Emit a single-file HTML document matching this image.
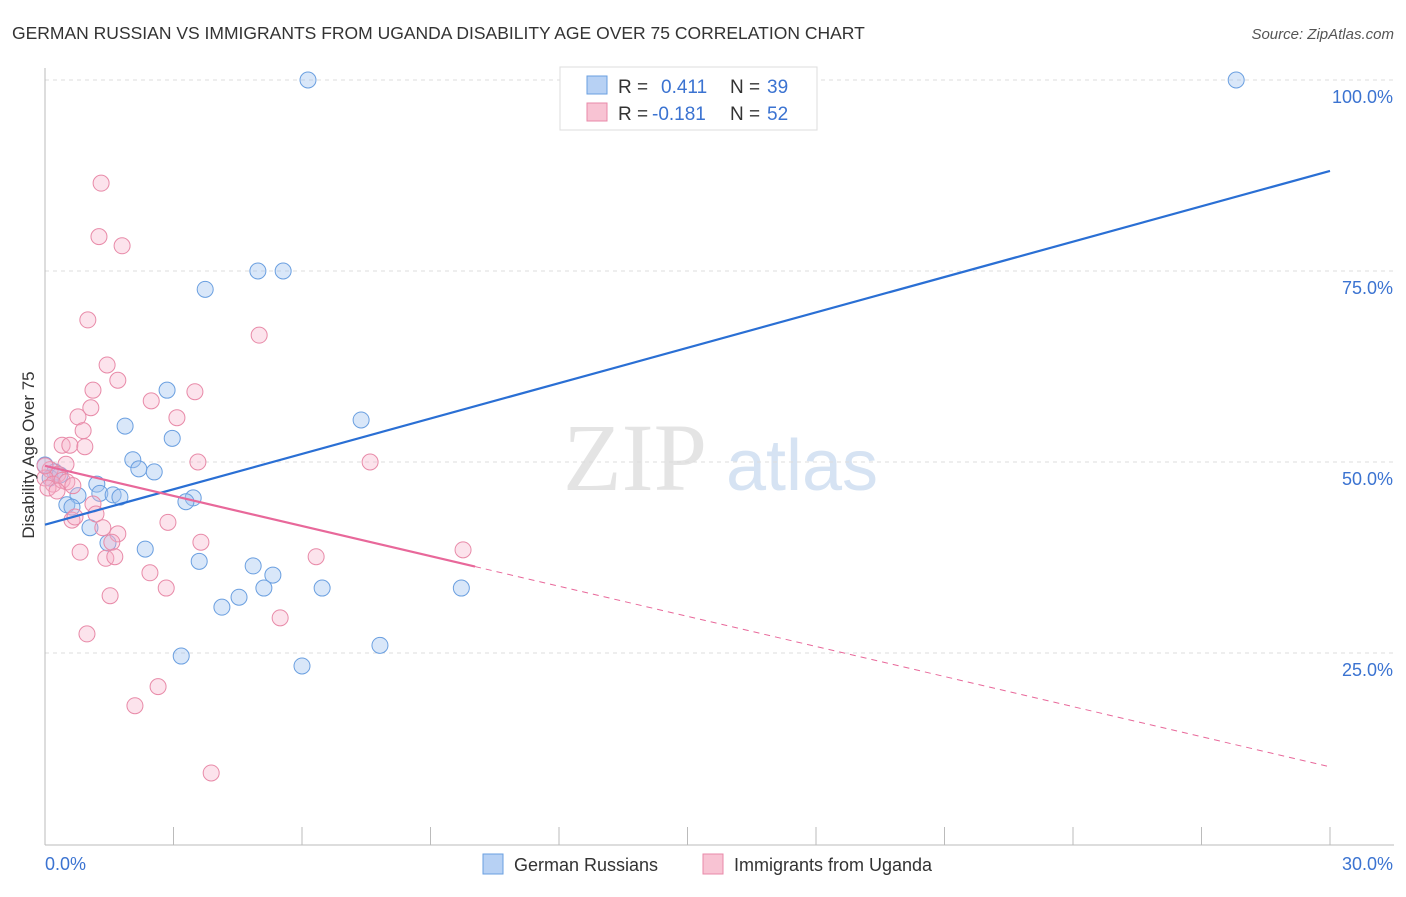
<!DOCTYPE html>
<html><head><meta charset="utf-8"><style>
body{margin:0;background:#fff;font-family:"Liberation Sans",sans-serif;}
</style></head><body>
<svg id="chart" width="1406" height="892" xmlns="http://www.w3.org/2000/svg" font-family="Liberation Sans, sans-serif">
<text x="12" y="39" font-size="17.5" fill="#333">GERMAN RUSSIAN VS IMMIGRANTS FROM UGANDA DISABILITY AGE OVER 75 CORRELATION CHART</text>
<text x="1394" y="39" font-size="15" fill="#555" text-anchor="end" font-style="italic">Source: ZipAtlas.com</text>
<g>
<text x="635" y="490" font-size="96" fill="#e4e4e4" text-anchor="middle" font-family="Liberation Serif, serif">ZIP</text>
<text x="802" y="490" font-size="72" fill="#d6e3f3" text-anchor="middle">atlas</text>
</g>
<g id="grid"></g>
<g id="axes"></g>
<g id="marks"></g>
<text transform="translate(34,455) rotate(-90)" font-size="17" fill="#333" text-anchor="middle">Disability Age Over 75</text>
<g>
<rect x="560" y="67" width="257" height="63" fill="#fff" stroke="#ddd"/>
<rect x="587" y="76" width="20" height="18" fill="#b7d1f4" stroke="#6a9fe0"/>
<rect x="587" y="103" width="20" height="18" fill="#f8c3d3" stroke="#e88aa8"/>
<text x="618" y="93" font-size="19" fill="#333">R =</text>
<text x="661" y="93" font-size="19" fill="#3b73d1">0.411</text>
<text x="730" y="93" font-size="19" fill="#333">N =</text>
<text x="767" y="93" font-size="19" fill="#3b73d1">39</text>
<text x="618" y="120" font-size="19" fill="#333">R =</text>
<text x="652" y="120" font-size="19" fill="#3b73d1">-0.181</text>
<text x="730" y="120" font-size="19" fill="#333">N =</text>
<text x="767" y="120" font-size="19" fill="#3b73d1">52</text>
</g>
<g>
<rect x="483" y="854" width="20" height="20" fill="#b7d1f4" stroke="#6a9fe0"/>
<text x="514" y="871" font-size="18" fill="#333">German Russians</text>
<rect x="703" y="854" width="20" height="20" fill="#f8c3d3" stroke="#e88aa8"/>
<text x="734" y="871" font-size="18" fill="#333">Immigrants from Uganda</text>
</g>
</svg>
<script>
const yTicks=[25,50,75,100];
const yTickLabels=["25.0%","50.0%","75.0%","100.0%"];
const xTickCount=11;
const blueX=[6.14,27.81,4.97,5.56,3.74,2.85,7.38,1.87,2.97,2.05,2.19,2.55,0,0.23,0.12,1.21,0.77,1.28,1.59,1.75,3.46,3.29,0.51,0.63,1.05,2.34,1.47,3.60,4.86,5.32,5.11,6.47,9.72,4.53,4.13,3.18,6.00,7.82,0.35];
const blueY=[100,100,75.0,75.0,72.6,59.4,55.5,54.7,53.1,50.3,49.1,48.7,49.6,48.7,47.9,47.1,45.6,45.9,45.7,45.4,45.3,44.8,44.4,44.1,41.4,38.6,39.4,37.0,36.4,35.2,33.5,33.5,33.5,32.3,31.0,24.6,23.3,26.0,48.3];
const pinkX=[1.31,1.26,1.80,1.00,5.00,1.45,1.70,1.12,3.50,2.48,0.77,1.07,3.08,0.89,0.40,0.58,0.93,3.57,7.59,0.49,0.12,0.30,0,0.19,0.40,0.51,0.07,0.28,0.65,1.12,1.19,0.63,0.70,2.87,1.70,1.35,1.56,3.64,0.82,6.33,9.76,1.42,1.63,2.45,2.83,1.52,0.98,5.49,2.64,2.10,3.88,0];
const pinkY=[86.5,79.5,78.3,68.6,66.6,62.7,60.7,59.4,59.2,58.0,55.9,57.1,55.8,54.1,52.2,52.2,52.0,50.0,50.0,49.7,49.0,48.4,47.9,47.1,47.6,47.4,46.6,46.2,46.9,44.5,43.2,42.4,42.8,42.1,40.6,41.4,39.5,39.5,38.2,37.6,38.5,37.4,37.6,35.5,33.5,32.5,27.5,29.6,20.6,18.1,9.3,49.5];
const blueTrend=[41.8,88.1];
const pinkTrend=[49.5,10.1];
const pinkSolidEnd=10.04;

const NS="http://www.w3.org/2000/svg";
const X0=45,X1=1330,Y0=844,Y100=80;
const sx=v=>X0+(v/30)*(X1-X0);
const sy=v=>Y0-(v/100)*(Y0-Y100);
function mk(t,a,p){const e=document.createElementNS(NS,t);for(const k in a)e.setAttribute(k,a[k]);p.appendChild(e);return e;}
const grid=document.getElementById('grid'),axes=document.getElementById('axes'),marks=document.getElementById('marks');
yTicks.forEach((t,i)=>{
 const l=mk('line',{x1:X0,x2:1394,y1:sy(t),y2:sy(t),stroke:'#ddd','stroke-dasharray':'4,4'},grid);
 
 
 const tx=mk('text',{x:1393,y:sy(t)+23,'font-size':18,fill:'#3b73d1','text-anchor':'end'},axes);
 tx.textContent=yTickLabels[i];
 
 
});
const ya=mk('line',{x1:X0,x2:X0,y1:68,y2:845,stroke:'#bbb'},axes);


const xa=mk('line',{x1:X0,x2:1394,y1:845,y2:845,stroke:'#bbb'},axes);


for(let i=0;i<xTickCount;i++){
 const v=i*30/(xTickCount-1);
 const t=mk('line',{x1:sx(v),x2:sx(v),y1:827,y2:845,stroke:'#bbb'},axes);
 
 
}
const xl0=mk('text',{x:45,y:870,'font-size':18,fill:'#3b73d1'},axes);xl0.textContent='0.0%';


const xl1=mk('text',{x:1393,y:870,'font-size':18,fill:'#3b73d1','text-anchor':'end'},axes);xl1.textContent='30.0%';



blueX.forEach((x,i)=>{
 const c=mk('circle',{cx:sx(x),cy:sy(blueY[i]),r:8,fill:'rgba(160,195,240,0.4)',stroke:'#6a9fe0','stroke-width':1},marks);
 
 
});
pinkX.forEach((x,i)=>{
 const c=mk('circle',{cx:sx(x),cy:sy(pinkY[i]),r:8,fill:'rgba(245,175,200,0.35)',stroke:'#e88aa8','stroke-width':1},marks);
 
 
});
const bl=mk('line',{x1:sx(0),y1:sy(blueTrend[0]),x2:sx(30),y2:sy(blueTrend[1]),stroke:'#2a6fd4','stroke-width':2.2},marks);


const pAt=v=>pinkTrend[0]+(pinkTrend[1]-pinkTrend[0])*v/30;
const pl=mk('line',{x1:sx(0),y1:sy(pinkTrend[0]),x2:sx(pinkSolidEnd),y2:sy(pAt(pinkSolidEnd)),stroke:'#e8689a','stroke-width':2.2},marks);


const pd=mk('line',{x1:sx(pinkSolidEnd),y1:sy(pAt(pinkSolidEnd)),x2:sx(30),y2:sy(pinkTrend[1]),stroke:'#e8689a','stroke-width':1,'stroke-dasharray':'6,5'},marks);


</script>
</body></html>
